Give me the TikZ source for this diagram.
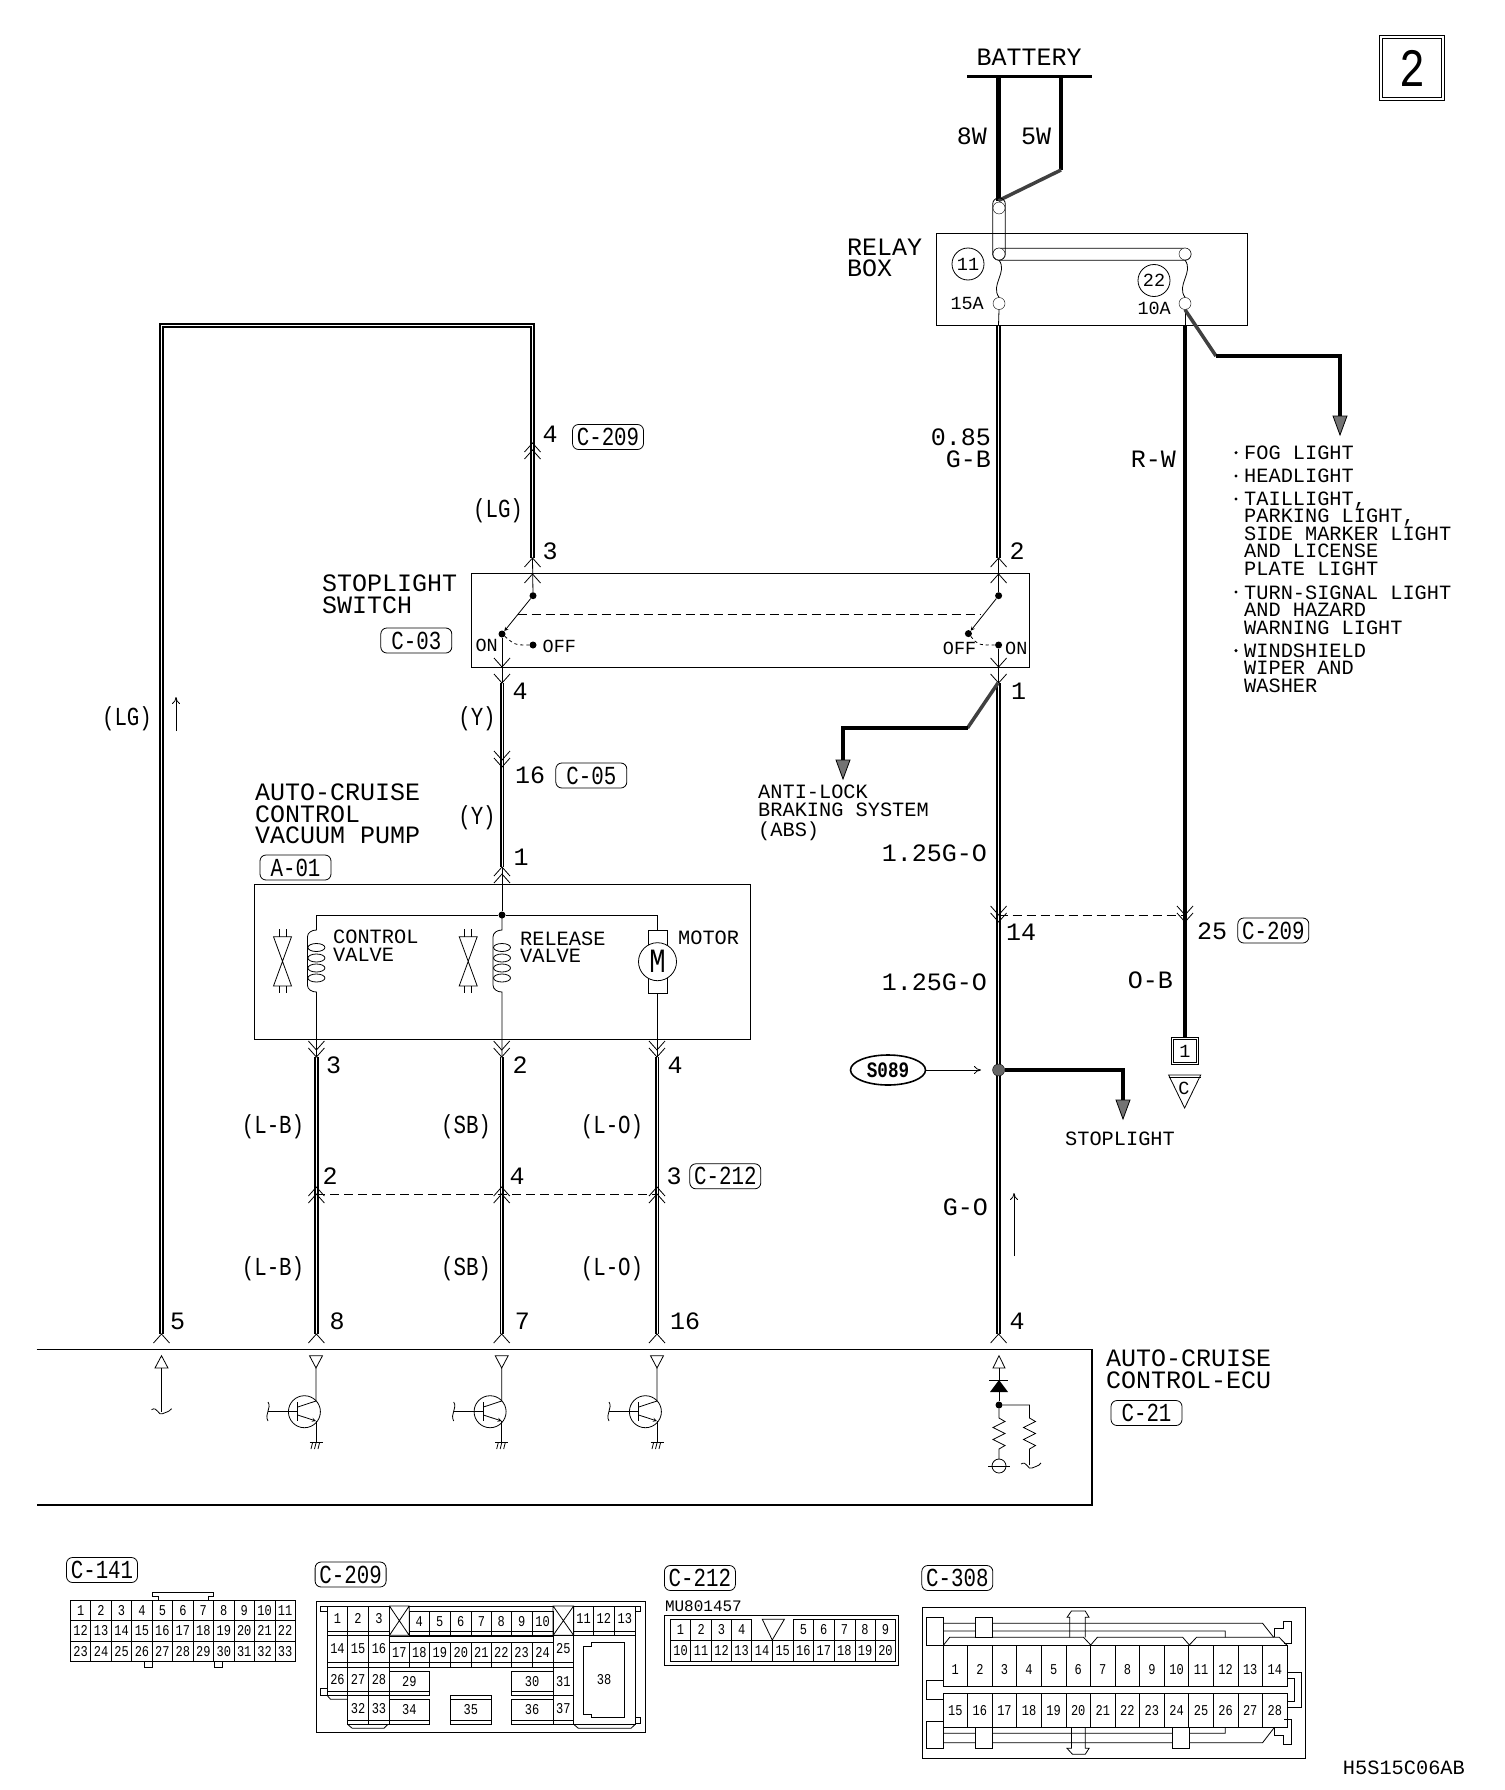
\documentclass[tikz,border=0pt]{standalone}
\usepackage{fontspec}
\setmainfont{Liberation Mono}
\newfontfamily\cadnarrow[FakeStretch=0.8]{Liberation Mono}
\usetikzlibrary{arrows.meta,shapes.geometric,positioning}
\tikzset{
>=stealth,
every node/.style={inner sep=0pt},
lbig/.style={font=\fontsize{25}{21.7}\selectfont, align=left},
lmid/.style={font=\fontsize{20.3}{17.4}\selectfont, align=left},
lsmall/.style={font=\fontsize{18.5}{18}\selectfont},
lnar/.style={font=\cadnarrow\fontsize{26}{22}\selectfont, yshift=-1.5pt},
tag/.style={draw, line width=.8pt, rounded corners=6pt, font=\cadnarrow\fontsize{26}{22}\selectfont, minimum width=71pt, minimum height=25pt},
pinno/.style={font=\cadnarrow\fontsize{15}{15}\selectfont},
wire/.style={line width=4.5pt},
lgwire/.style={line width=2pt, double, double distance=.8pt},
dwire/.style={line width=1.8pt, double, double distance=.8pt},
hwire/.style={line width=3.5pt, draw=black!75},
thin1/.style={line width=.8pt},
openhead/.style={-{To[length=7pt,width=8pt]}},
fuse/.style={circle, draw, fill=white, minimum size=12pt},
dot/.style={circle, fill=black, minimum size=7pt},
box/.style={draw, line width=1pt},
}
% small symbols that repeat
\newcommand{\chevu}[2]{\draw[thin1] (#1-8,#2+9) -- (#1,#2) -- (#1+8,#2+9);}
\newcommand{\chevd}[2]{\draw[thin1] (#1-8,#2-9) -- (#1,#2) -- (#1+8,#2-9);}
\newcommand{\hatchtip}[2]{\filldraw[fill=black!55, line width=.8pt] (#1-7,#2) -- (#1+7,#2) -- (#1,#2+19) -- cycle;}
\newcommand{\wavyh}[2]{\draw[thin1] (#1-10,#2-2) .. controls (#1-4,#2-6) and (#1-3,#2+5) .. (#1+1,#2+2) .. controls (#1+4,#2) and (#1+7,#2+1) .. (#1+10,#2-3);}

\begin{document}
\begin{tikzpicture}[x=1pt,y=-1pt]
\useasboundingbox (0,0) rectangle (1504,1790);

% sheet number
\node[draw, double, double distance=1.5pt, line width=.8pt, minimum width=62pt, minimum height=62pt, font=\cadnarrow\fontsize{54}{54}\selectfont] (sheet) at (1412,68) {2};

% battery and relay box
\node[lbig] (bat) at (1029,57) {BATTERY};
\coordinate (barL) at (967,77);
\coordinate (barR) at (1092,77);
\coordinate (w8t) at (998.5,77);
\coordinate (w5t) at (1061,77);
\coordinate (w5b) at (1061,170);
\coordinate (jct) at (998.5,200.6);
\draw[line width=3pt] (barL) -- (barR);
\draw[wire] (w8t) -- (jct);
\draw[wire] (w5t) -- (w5b);
\draw[hwire] (w5b) -- (jct);
\node[lbig, anchor=east] (l8w) at (987,136) {8W};
\node[lbig, anchor=west] (l5w) at (1021,136) {5W};
\node[box, minimum width=311.5pt, minimum height=92pt] (relay) at (1092.2,279.3) {};
\node[lbig, anchor=west] (lrelay) at (847,258) {RELAY\\BOX};
\node[draw, thin1, rounded corners=6pt, minimum width=12.6pt, minimum height=62pt] (tubeV) at (999,229) {};
\node[draw, thin1, rounded corners=6pt, minimum width=198pt, minimum height=12pt] (tubeH) at (1092,254.2) {};
\node[fuse] (f1t) at (999,208) {};
\node[fuse] (f1m) at (999,254) {};
\node[fuse] (f1b) at (999,303.5) {};
\node[fuse] (f2t) at (1185,254) {};
\node[fuse] (f2b) at (1185,303.5) {};
\draw[thin1] (f1m.south) .. controls (1008,272) and (990,285) .. (f1b.north);
\draw[thin1] (f2t.south) .. controls (1194,272) and (1176,285) .. (f2b.north);
\node[draw, circle, thin1, minimum size=32pt, lsmall] (c11) at (968,264) {11};
\node[draw, circle, thin1, minimum size=32pt, lsmall] (c22) at (1154,280.5) {22};
\node[lsmall, anchor=east] (l15a) at (984,303.5) {15A};
\node[lsmall, anchor=east] (l10a) at (1171,308.5) {10A};

% branch to the light list
\coordinate (rwt) at (1185,325.5);
\coordinate (b1a) at (1216,356);
\coordinate (b1b) at (1340,356);
\coordinate (b1c) at (1340,418);
\draw[thin1] (f1b.south) -- (998.5,325.5);
\draw[thin1] (f2b.south) -- (rwt);
\draw[hwire] (f2b.south) -- (b1a);
\draw[wire] (b1a) -- (b1b) -- (b1c);
\hatchtip{1340}{416}
\foreach \y in {452.7,476,499,592,650.6}
  \fill (1236,\y) circle (1.7pt);
\node[lmid, anchor=west] (ll1) at (1244,452.7) {FOG LIGHT};
\node[lmid, anchor=west] (ll2) at (1244,476) {HEADLIGHT};
\node[lmid, anchor=west] (ll3) at (1244,533.7) {TAILLIGHT,\\PARKING LIGHT,\\SIDE MARKER LIGHT\\AND LICENSE\\PLATE LIGHT};
\node[lmid, anchor=west] (ll4) at (1244,610) {TURN-SIGNAL LIGHT\\AND HAZARD\\WARNING LIGHT};
\node[lmid, anchor=west] (ll5) at (1244,668) {WINDSHIELD\\WIPER AND\\WASHER};

% stoplight switch
\node[box, minimum width=557.6pt, minimum height=94pt] (swbox) at (750.2,620) {};
\node[lbig, anchor=west] (lsw) at (322,594) {STOPLIGHT\\SWITCH};
\node[tag] (c03) at (416.3,640.5) {C-03};
\node[dot] (sa) at (533,595.7) {};
\node[dot] (sb) at (502,634) {};
\node[dot] (sc) at (533,645) {};
\node[dot] (sd) at (998.6,595.7) {};
\node[dot] (se) at (968.4,633.6) {};
\node[dot] (sf) at (998.6,645) {};
\draw[->, thin1] (sa) -- (sb);
\draw[->, thin1] (sd) -- (se);
\coordinate (dashL) at (517.5,614);
\coordinate (dashR) at (979.6,614);
\draw[thin1, dash pattern=on 9pt off 5pt] (dashL) -- (dashR);
\draw[thin1, dashed] (sb) .. controls (515,645) .. (sc);
\draw[thin1, dashed] (se) .. controls (978,645) .. (sf);
\node[lsmall, anchor=west] (loff1) at (542.5,646) {OFF};
\node[lsmall, anchor=east] (lon1) at (498,645) {ON};
\node[lsmall, anchor=east] (loff2) at (976.4,648) {OFF};
\node[lsmall, anchor=west] (lon2) at (1005,648) {ON};

% (LG) line
\coordinate (lg0) at (161.5,1334);
\coordinate (lg1) at (161.5,325.5);
\coordinate (lg2) at (532.5,325.5);
\coordinate (lg3) at (532.5,558);
\draw[lgwire] (lg0) -- (lg1) -- (lg2) -- (lg3);
\draw[thin1] (lg3) -- (sa);
\chevu{161.5}{1334}
\chevu{532.5}{443} \chevu{532.5}{450} \chevu{532.5}{558} \chevu{532.5}{574}
\node[lbig] (n4a) at (550,434) {4};
\node[tag] (c209a) at (608,437) {C-209};
\node[lnar] (llg1) at (498,509) {(LG)};
\node[lbig] (n3a) at (550,551) {3};
\node[lnar] (llg2) at (127,717) {(LG)};
\coordinate (ua1) at (176,731);
\coordinate (ua2) at (176,697);
\draw[openhead, thin1] (ua1) -- (ua2);

% (Y) line and vacuum pump
\coordinate (y0) at (502,683);
\coordinate (y1) at (502,867);
\node[dot] (pj) at (502,915) {};
\draw[thin1] (sb) -- (y0);
\draw[dwire] (y0) -- (y1);
\draw[thin1] (y1) -- (pj);
\chevd{502}{667} \chevd{502}{683} \chevd{502}{760} \chevd{502}{767} \chevu{502}{867} \chevu{502}{874}
\node[lbig] (n4b) at (520,691.7) {4};
\node[lnar] (lya) at (477,717.7) {(Y)};
\node[lbig] (n16a) at (530,775) {16};
\node[tag] (c05) at (591.3,775.5) {C-05};
\node[lnar] (lyb) at (477,816) {(Y)};
\node[lbig] (n1a) at (521,857) {1};
\node[lbig, anchor=west] (lpump) at (255,814) {AUTO-CRUISE\\CONTROL\\VACUUM PUMP};
\node[tag] (a01) at (295.5,867.5) {A-01};
\node[box, minimum width=496.4pt, minimum height=154.7pt] (pump) at (502.5,961.7) {};
\coordinate (pl) at (316.4,915);
\coordinate (pr) at (657.5,915);
\draw[thin1] (pl) -- (pj) -- (pr);
\foreach \x/\v in {316.4/282.5,502/468.2}{
  \draw[thin1] (\x,915) -- (\x,930) to[out=180,in=90] (\x-9,937) -- (\x-9,985) to[out=-90,in=180] (\x,992) -- (\x,1057);
  \foreach \y in {947.5,958,968,978}
    \draw[thin1] (\x,\y) ellipse (8.5pt and 4pt);
  \draw[thin1] (\v-9,936.7) -- (\v+9,936.7) -- (\v-9,986) -- (\v+9,986) -- cycle;
  \draw[thin1] (\v-3.5,929) -- (\v-3.5,936.7) (\v+3.5,929) -- (\v+3.5,936.7);
  \draw[thin1] (\v-3.5,986) -- (\v-3.5,993) (\v+3.5,986) -- (\v+3.5,993);
}
\node[lmid, anchor=west] (lcv) at (333,945.5) {CONTROL\\VALVE};
\node[lmid, anchor=west] (lrv) at (520,947) {RELEASE\\VALVE};
\node[lmid, anchor=west] (lmo) at (678,937.7) {MOTOR};
\node[draw, thin1, minimum width=19pt, minimum height=62.6pt] (mrect) at (657.5,962) {};
\node[draw, circle, thin1, fill=white, minimum size=38pt, font=\cadnarrow\fontsize{34}{34}\selectfont] (motor) at (657.5,961.7) {M};
\draw[thin1] (pr) -- (mrect.north);
\draw[thin1] (mrect.south) -- (657.5,1057);

% three lines down to the ECU
\foreach \x/\p/\q/\s/\nx/\ny [count=\k] in {316.4/3/2/8/333.5/330,501.7/2/4/7/520/517,657/4/3/16/675/674}{
  \coordinate (lt\k) at (\x,1057);
  \coordinate (lb\k) at (\x,1334);
  \draw[dwire] (lt\k) -- (lb\k);
  \chevd{\x}{1050} \chevd{\x}{1057}
  \chevu{\x}{1187} \chevu{\x}{1194}
  \chevu{\x}{1334}
  \node[lbig] (pa\k) at (\nx,1065.5) {\p};
  \node[lbig] (pb\k) at (\ny,1176) {\q};
  \node[lbig, anchor=west] (pc\k) at (\x+13,1321.7) {\s};
}
\foreach \y [count=\k] in {1125,1267.6}{
  \node[lnar] (wlb\k) at (273,\y) {(L-B)};
  \node[lnar] (wsb\k) at (466,\y) {(SB)};
  \node[lnar] (wlo\k) at (612,\y) {(L-O)};
}
\coordinate (dd1) at (316.4,1194.5);
\coordinate (dd2) at (657,1194.5);
\draw[thin1, dash pattern=on 9pt off 5pt] (dd1) -- (dd2);
\node[tag] (c212a) at (725.3,1176.3) {C-212};
\node[lbig] (n5) at (177.5,1321.7) {5};

% centre line
\coordinate (g0) at (998.6,325.5);
\coordinate (g1) at (998.6,558);
\coordinate (g2) at (998.6,683);
\coordinate (g3) at (998.6,1334);
\draw[dwire] (g0) -- (g1);
\draw[thin1] (g1) -- (sd);
\draw[thin1] (sf) -- (g2);
\draw[dwire] (g2) -- (g3);
\chevu{998.6}{558} \chevu{998.6}{574} \chevd{998.6}{667} \chevd{998.6}{683}
\chevd{998.6}{915} \chevd{998.6}{922} \chevu{998.6}{1334}
\node[lbig, anchor=east, align=right] (l085) at (991,448) {0.85\\G-B};
\node[lbig] (n2b) at (1017,551) {2};
\node[lbig] (n1b) at (1018.6,691.7) {1};
\node[lbig, anchor=east] (lg1a) at (987,853) {1.25G-O};
\node[lbig] (n14) at (1021,932.7) {14};
\node[lbig, anchor=east] (lg1b) at (987,982) {1.25G-O};
\node[lbig, anchor=east] (lgo) at (988,1207) {G-O};
\node[lbig] (n4c) at (1017,1321.7) {4};
\coordinate (ub1) at (1014,1256);
\coordinate (ub2) at (1014,1193);
\draw[openhead, thin1] (ub1) -- (ub2);

% ABS branch
\coordinate (ab0) at (998,683);
\coordinate (ab1) at (967.5,728);
\coordinate (ab2) at (843,728);
\coordinate (ab3) at (843,762);
\draw[hwire] (ab0) -- (ab1);
\draw[wire, line width=3.5pt] (ab1) -- (ab2) -- (ab3);
\hatchtip{843}{760}
\node[lmid, anchor=west] (labs) at (758,813) {ANTI-LOCK\\BRAKING SYSTEM\\[3pt](ABS)};

% splice and stoplight branch
\node[ellipse, draw, line width=1.6pt, minimum width=75pt, minimum height=30pt, font=\cadnarrow\bfseries\fontsize{22}{22}\selectfont] (s089) at (888,1070) {S089};
\node[circle, draw, fill=black!60, minimum size=12pt] (spl) at (998.6,1070) {};
\coordinate (sa1) at (981,1070);
\draw[openhead, thin1] (s089.east) -- (sa1);
\coordinate (st1) at (1123,1070);
\coordinate (st2) at (1123,1102);
\draw[wire] (spl.east) -- (st1) -- (st2);
\hatchtip{1123}{1100}
\node[lmid] (lstop) at (1120,1139) {STOPLIGHT};

% R-W line and earth
\node[draw, double, double distance=1pt, line width=.7pt, minimum size=25pt, lsmall] (gnd1) at (1185,1051) {1};
\draw[wire] (rwt) -- (gnd1.north);
\chevd{1185}{915} \chevd{1185}{922}
\coordinate (dx1) at (998.6,915);
\coordinate (dx2) at (1185,915);
\draw[thin1, dash pattern=on 9pt off 5pt] (dx1) -- (dx2);
\node[lbig, anchor=east] (lrw) at (1176,459) {R-W};
\node[lbig] (n25) at (1212,931) {25};
\node[tag] (c209b) at (1273.3,930.5) {C-209};
\node[lbig, anchor=east] (lob) at (1173,980) {O-B};
\draw[thin1] (1168.6,1075) -- (1200.7,1075) -- (1184.6,1108) -- cycle;
\draw[thin1] (1168.6,1077.5) -- (1200.7,1077.5);
\node[lsmall] (lc) at (1184,1088) {C};

% ECU
\coordinate (e1) at (36.5,1349.3);
\coordinate (e2) at (1092,1349.3);
\coordinate (e3) at (1092,1505);
\coordinate (e4) at (36.5,1505);
\draw[line width=1.2pt] (e1) -- (e2) -- (e3) -- (e4);
\node[lbig, anchor=west] (lecu) at (1106,1369.5) {AUTO-CRUISE\\CONTROL-ECU};
\node[tag] (c21) at (1146.5,1413) {C-21};
\draw[thin1] (155,1368) -- (168,1368) -- (161.5,1355.7) -- cycle;
\draw[thin1] (161.5,1368) -- (161.5,1411.7);
\wavyh{161.5}{1411.7}
\foreach \x in {316,501.7,657}{
  \draw[thin1] (\x-6.5,1355.7) -- (\x+6.5,1355.7) -- (\x,1368) -- cycle;
  \draw[thin1] (\x,1368) -- (\x,1401) -- (\x-18.3,1407);
  \draw[->, thin1] (\x-18.3,1415) -- (\x,1421);
  \draw[thin1] (\x,1421) -- (\x,1442.7);
  \draw[thin1] (\x-11.6,1411.7) circle (16pt);
  \draw[line width=1.1pt] (\x-18.3,1402) -- (\x-18.3,1421);
  \draw[thin1] (\x-48,1411.7) -- (\x-18.3,1411.7);
  \draw[thin1] (\x-48,1402) .. controls (\x-44,1408) and (\x-52,1414) .. (\x-48,1421);
  \draw[thin1] (\x-6.5,1442.7) -- (\x+6.5,1442.7);
  \foreach \d in {-3.5,0,3.5}
    \draw[thin1] (\x+\d,1443) -- (\x+\d-1.5,1449);
}
\draw[thin1] (993,1368) -- (1005,1368) -- (999,1355.7) -- cycle;
\draw[thin1] (999,1368) -- (999,1380);
\draw[line width=1pt] (989,1380) -- (1008,1380);
\fill (999,1380) -- (1008,1392) -- (990,1392) -- cycle;
\node[dot] (ed) at (999,1405) {};
\draw[thin1] (999,1392) -- (ed);
\draw[thin1] (ed) -- (1029.5,1405) -- (1029.5,1418) -- ++(6,3.5) -- ++(-12,6) -- ++(12,6) -- ++(-12,6) -- ++(12,6) -- ++(-6,3.5) -- (1029.5,1465);
\wavyh{1031}{1466}
\draw[thin1] (ed) -- (999,1418) -- ++(6,3.5) -- ++(-12,6) -- ++(12,6) -- ++(-12,6) -- ++(12,6) -- ++(-6,3.5) -- (999,1459);
\draw[thin1] (999,1466) circle (7pt);
\draw[thin1] (988,1466) -- (1010,1466);

% C-141
\node[tag] (c141) at (102,1570) {C-141};
\foreach \r in {0,1,2}
  \foreach \c in {1,...,11}{
    \pgfmathtruncatemacro{\n}{11*\r+\c}
    \draw[thin1] (70.4+20.45*\c-20.45,1600+20.6*\r) rectangle (70.4+20.45*\c,1620.6+20.6*\r)
      node[midway, pinno] (p141-\n) {\n};
  }
\draw[thin1] (158,1600) -- (158,1596) -- (152.6,1596) -- (152.6,1592.3) -- (213,1592.3) -- (213,1596) -- (208,1596) -- (208,1600);
\draw[thin1] (144.7,1661.8) rectangle (152.6,1667.7);
\draw[thin1] (214,1661.8) rectangle (222,1667.7);

% C-209
\node[tag] (c209c) at (350.6,1574.5) {C-209};
\begin{scope}[shift={(40pt,-1530pt)}, x=.3953pt, y=-.3333pt]
\draw[line width=1pt] (700,213) rectangle (1531,607);
\foreach \a/\b/\t/\m/\e/\l in {727/778/228/303/316/1,778/831/228/303/316/2,831/884/228/303/316/3,
  934/985/245/303/316/4,985/1038/245/303/316/5,1038/1091/245/303/316/6,1091/1142/245/303/316/7,1142/1192/245/303/316/8,1192/1245/245/303/316/9,1245/1298/245/303/316/10,
  1350/1400/228/303/316/11,1400/1453/228/303/316/12,1453/1506/228/303/316/13,
  727/778/316/398/412/14,778/831/316/398/412/15,831/884/316/398/412/16,
  884/934/337/398/412/17,934/985/337/398/412/18,985/1038/337/398/412/19,1038/1091/337/398/412/20,1091/1142/337/398/412/21,1142/1192/337/398/412/22,1192/1245/337/398/412/23,1245/1298/337/398/412/24,
  1298/1350/316/398/412/25,
  727/778/412/485/497/26,778/831/412/485/497/27,831/884/412/485/497/28,884/985/425/485/497/29,1192/1298/425/485/497/30,1298/1350/412/497/497/31,
  778/831/497/572/583/32,831/884/497/572/583/33,884/985/508/572/583/34,1038/1142/508/572/583/35,1192/1298/508/572/583/36,1298/1350/497/572/583/37}{
  \draw[thin1] (\a,\t) rectangle (\b,\e) (\a,\m) -- (\b,\m);
  \path (\a,\t) -- node[pinno] (p209-\l) {\l} (\b,\m);
}
\draw[thin1] (934,228) -- (1298,228) (884,320) -- (1298,320) (1038,495) -- (1142,495) -- (1142,508) (1038,495) -- (1038,508);
\foreach \a/\b in {884/934,1298/1350}
  \draw[thin1] (\a,228) rectangle (\b,316) (\a,228) -- (\b,316) (\b,228) -- (\a,316);
\draw[thin1] (1350,316) rectangle (1506,583);
\draw[thin1] (1395,337) -- (1478,337) -- (1478,562) -- (1395,562) -- (1395,552) -- (1375,552) -- (1375,350) -- (1395,350) -- cycle;
\node[pinno] (p209-38) at (1427,450) {38};
\draw[thin1] (778,583) -- (790,595) -- (870,595) -- (880,583) (1350,583) -- (1362,595) -- (1495,595) -- (1506,583);
\draw[thin1] (727,228) -- (710,228) -- (710,243) -- (727,243) (1506,228) -- (1520,228) -- (1520,243) -- (1506,243);
\draw[thin1] (727,475) -- (710,475) -- (710,497) -- (727,497) (1506,562) -- (1520,562) -- (1520,580) -- (1506,580);
\draw[thin1] (727,497) -- (735,508) -- (778,508);
\end{scope}

% C-212
\node[tag] (c212b) at (699.9,1578) {C-212};
\node[font=\fontsize{16}{16}\selectfont, anchor=west] (lmu) at (664.8,1606.7) {MU801457};
\begin{scope}[shift={(640pt,-1530pt)}, x=.551pt, y=-.3333pt]
\draw[line width=1pt] (45,255) rectangle (470,407);
\foreach \a/\b/\l in {55/92/1,92/130/2,130/166/3,166/203/4,278/315/5,315/352/6,352/390/7,390/427/8,427/464/9}{
  \draw[thin1] (\a,268) rectangle (\b,330);
  \path (\a,268) -- node[pinno] (p212-\l) {\l} (\b,330);
}
\foreach \a/\b/\l in {55/92/10,92/130/11,130/166/12,166/203/13,203/240/14,240/278/15,278/315/16,315/352/17,352/390/18,390/427/19,427/464/20}{
  \draw[thin1] (\a,330) rectangle (\b,393);
  \path (\a,330) -- node[pinno] (p212-\l) {\l} (\b,393);
}
\draw[thin1] (222,268) -- (262,268) -- (240,330) -- cycle;
\end{scope}

% C-308
\node[tag] (c308) at (957.3,1578) {C-308};
\begin{scope}[shift={(640pt,-1530pt)}, x=.551pt, y=-.3333pt]
\draw[line width=1pt] (513,232) rectangle (1208,685);
\foreach \c in {1,...,14}{
  \pgfmathtruncatemacro{\m}{\c+14}
  \draw[thin1] (505.4+44.6*\c,347) rectangle (550+44.6*\c,468)
    (505.4+44.6*\c,490) rectangle (550+44.6*\c,592);
  \path (505.4+44.6*\c,347) -- node[pinno] (p308-\c) {\c} (550+44.6*\c,490);
  \path (505.4+44.6*\c,490) -- node[pinno] (p308-\m) {\m} (550+44.6*\c,592);
}
\draw[thin1] (550,262) -- (520,262) -- (520,347) -- (550,347) -- cycle;
\draw[thin1] (550,280) -- (1130,280) -- (1150,322) (550,303) -- (1062,303) -- (1062,322);
\draw[thin1] (550,347) -- (562,322) -- (805,322) -- (818,345) -- (830,322) -- (985,322) -- (997,345) -- (1010,322) -- (1160,322) -- (1175,347);
\draw[thin1, fill=white] (609,262) rectangle (640,322);
\draw[thin1] (780,322) -- (780,262) -- (775,262) -- (783,243) -- (808,243) -- (815,262) -- (808,262) -- (808,322);
\draw[thin1] (1152,320) -- (1152,295) -- (1168,295) -- (1168,273) -- (1182,273) -- (1182,340) -- (1168,340);
\draw[thin1] (550,452) -- (520,452) -- (520,508) -- (550,508);
\draw[thin1] (1175,428) -- (1200,428) -- (1200,532) -- (1175,532) (1175,445) -- (1188,445) -- (1188,515) -- (1175,515);
\draw[thin1] (550,575) -- (520,575) -- (520,655) -- (550,655) -- cycle;
\draw[thin1] (550,610) -- (1062,610) -- (1062,592) (550,638) -- (1130,638) -- (1150,595);
\draw[thin1, fill=white] (609,592) rectangle (640,655);
\draw[thin1, fill=white] (966,592) rectangle (997,655);
\draw[thin1] (783,592) -- (783,655) -- (775,655) -- (785,673) -- (808,673) -- (815,655) -- (808,655) -- (808,592);
\draw[thin1] (1152,595) -- (1152,615) -- (1168,615) -- (1168,642) -- (1182,642) -- (1182,568) -- (1168,568);
\end{scope}
\node[lmid, anchor=east] (lcode) at (1465,1768) {H5S15C06AB};
\end{tikzpicture}
\end{document}
